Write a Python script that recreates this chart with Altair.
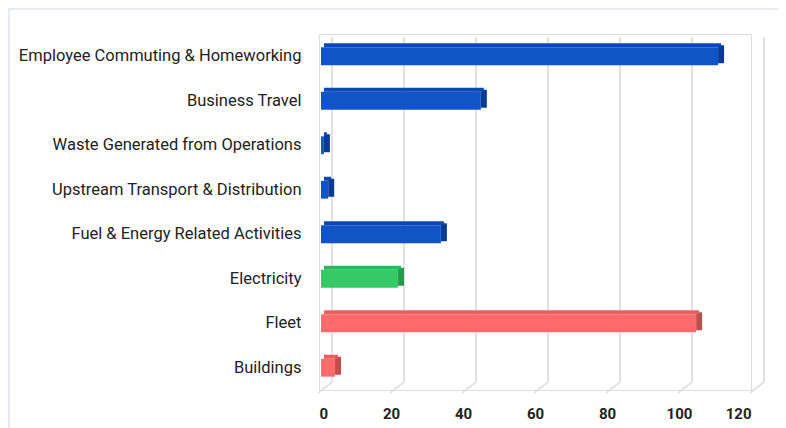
import altair as alt
import pandas as pd

categories = [
    "Employee Commuting & Homeworking",
    "Business Travel",
    "Waste Generated from Operations",
    "Upstream Transport & Distribution",
    "Fuel & Energy Related Activities",
    "Electricity",
    "Fleet",
    "Buildings",
]
values = [110.3, 44.4, 0.8, 2.0, 33.3, 21.4, 104.2, 3.9]
groups = ["Scope 3", "Scope 3", "Scope 3", "Scope 3", "Scope 3", "Scope 2", "Scope 1", "Scope 1"]
tick_values = [0, 20, 40, 60, 80, 100, 120]

group_domain = ["Scope 3", "Scope 2", "Scope 1"]
front_colors = ["#1154c8", "#36c966", "#ff6b6b"]
top_colors = ["#0d48b2", "#2fb65b", "#e85f5f"]
side_colors = ["#0a3a92", "#249a4b", "#c44c4c"]

W, H = 432, 356

df = pd.DataFrame({"category": categories, "value": values, "group": groups})
ticks_df = pd.DataFrame({"t": tick_values})
frame_df = pd.DataFrame({"a": [0]})

xs = alt.Scale(domain=[0, 120], nice=False, zero=True)
ys = alt.Scale(domain=categories, paddingInner=0.6, paddingOuter=0.3)

xaxis = alt.Axis(
    values=tick_values, title=None, grid=False, domain=False, ticks=False,
    labelFont="Roboto", labelFontSize=15, labelFontWeight="bold",
    labelColor="#222222", labelPadding=16,
)
yaxis = alt.Axis(
    title=None, grid=False, domain=False, ticks=False,
    labelFont="Roboto", labelFontSize=16.5, labelColor="#222222",
    labelPadding=18, labelLimit=400,
)

frame = alt.Chart(frame_df).mark_rect(filled=False, stroke="#e1e3ea", strokeWidth=1.5).encode(
    x=alt.value(-310), x2=alt.value(W + 300), y=alt.value(-25), y2=alt.value(H + 200)
)

grid = alt.Chart(ticks_df).mark_rule(color="#d9d9d9", strokeWidth=1.5, xOffset=13).encode(
    x=alt.X("t:Q", scale=xs, axis=xaxis),
    y=alt.value(3),
    y2=alt.value(348),
)
diag = alt.Chart(ticks_df).mark_rule(color="#d9d9d9", strokeWidth=1.5, xOffset=13, x2Offset=-1).encode(
    x=alt.X("t:Q", scale=xs, axis=xaxis),
    x2="t:Q",
    y=alt.value(348),
    y2=alt.value(359),
)

yenc = alt.Y("category:N", scale=ys, sort=categories, axis=yaxis)

side = alt.Chart(df).mark_bar(height=18, xOffset=2, x2Offset=8, yOffset=-2).encode(
    x=alt.X("value:Q", scale=xs, axis=xaxis),
    x2="value:Q",
    y=yenc,
    color=alt.Color("group:N", scale=alt.Scale(domain=group_domain, range=side_colors), legend=None),
)
top = alt.Chart(df).mark_bar(height=4, xOffset=5, x2Offset=5, yOffset=-11).encode(
    x=alt.X("value:Q", scale=xs, axis=xaxis),
    y=yenc,
    color=alt.Color("group:N", scale=alt.Scale(domain=group_domain, range=top_colors), legend=None),
)
front = alt.Chart(df).mark_bar(xOffset=2, x2Offset=2).encode(
    x=alt.X("value:Q", scale=xs, axis=xaxis),
    y=yenc,
    color=alt.Color("group:N", scale=alt.Scale(domain=group_domain, range=front_colors), legend=None),
)

chart = alt.layer(frame, grid, diag, side, top, front).resolve_scale(
    color="independent"
).properties(
    width=W, height=H,
    autosize="none",
    padding={"left": 311, "top": 26, "right": 27, "bottom": 46},
).configure_view(stroke=None).configure(background="white")

chart.save("out.html", embed_options={"renderer": "svg", "actions": False})
